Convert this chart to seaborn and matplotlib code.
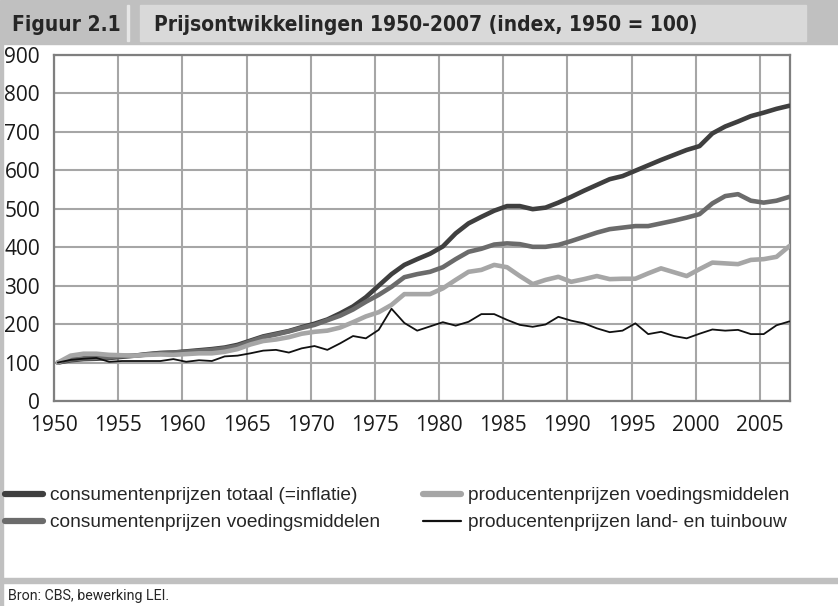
import numpy as np
import matplotlib
matplotlib.use('Agg')
import matplotlib.pyplot as plt
from matplotlib.patches import Rectangle
from matplotlib.lines import Line2D
import seaborn as sns

years = np.arange(1950, 2008)

cpi_totaal = [100, 106, 109, 110, 112, 115, 118, 122, 125, 126,
              129, 132, 135, 139, 146, 157, 168, 175, 182, 192,
              201, 212, 228, 246, 270, 300, 330, 354, 369, 383,
              402, 436, 462, 479, 495, 507, 507, 499, 503, 516,
              531, 547, 562, 577, 585, 599, 613, 627, 640, 653,
              663, 696, 714, 727, 741, 750, 760, 768]

cpi_voeding = [100, 108, 111, 112, 114, 117, 118, 121, 124, 126,
               128, 130, 133, 137, 143, 155, 166, 173, 181, 190,
               198, 210, 222, 238, 258, 276, 297, 322, 330, 336,
               348, 369, 388, 396, 407, 410, 408, 401, 401, 406,
               416, 427, 438, 447, 451, 455, 455, 462, 469, 477,
               486, 514, 533, 538, 521, 516, 521, 531]

ppi_voeding = [100, 118, 123, 123, 120, 119, 118, 120, 121, 120,
               122, 124, 124, 128, 135, 147, 156, 160, 166, 175,
               180, 183, 191, 205, 220, 231, 250, 278, 278, 278,
               293, 315, 336, 341, 354, 348, 325, 304, 315, 323,
               310, 317, 325, 317, 318, 318, 332, 345, 335, 325,
               343, 360, 358, 356, 367, 369, 375, 403]

ppi_land = [100, 107, 110, 112, 102, 104, 104, 104, 104, 109,
            102, 106, 104, 116, 118, 124, 131, 133, 126, 137,
            143, 133, 150, 169, 163, 185, 240, 203, 183, 194,
            205, 196, 206, 226, 226, 211, 198, 193, 199, 219,
            209, 202, 189, 179, 183, 202, 174, 180, 169, 163,
            175, 186, 183, 185, 174, 174, 197, 207]

labels = ['consumentenprijzen totaal (=inflatie)',
          'consumentenprijzen voedingsmiddelen',
          'producentenprijzen voedingsmiddelen',
          'producentenprijzen land- en tuinbouw']
colors = ['#3f3f3f', '#6b6b6b', '#a6a6a6', '#111111']
widths = [3.3, 3.3, 3.3, 1.3]

sns.set_style('white')
plt.rcParams['font.family'] = ['Liberation Sans', 'DejaVu Sans']

W, H = 838, 606
fig = plt.figure(figsize=(W / 100, H / 100), dpi=100)
ax = fig.add_axes([54 / W, 1 - 401 / H, (790 - 54) / W, (401 - 55) / H])

# excel draws in this order: totaal, ppi voeding, cpi voeding, ppi land
series = [cpi_totaal, cpi_voeding, ppi_voeding, ppi_land]
for i in [0, 2, 1, 3]:
    sns.lineplot(x=years, y=series[i], ax=ax, color=colors[i],
                 linewidth=widths[i], legend=False, zorder=3 + i)

ax.set_xlim(1949.7, 2007.05)
ax.set_ylim(0, 900)
ax.set_xticks(years[::5] - 0.3)
ax.set_xticklabels([str(y) for y in years[::5]])
ax.set_yticks(range(0, 901, 100))
ax.set_xlabel('')
ax.set_ylabel('')
ax.grid(True, color='#a6a6a6', linewidth=1.5)
for s in ax.spines.values():
    s.set_color('#7f7f7f')
    s.set_linewidth(1.6)
ax.tick_params(length=0, labelsize=15, colors='#1a1a1a')
ax.tick_params(axis='y', pad=10)
ax.tick_params(axis='x', pad=10)
for t in ax.get_xticklabels() + ax.get_yticklabels():
    t.set_family(['Open Sans', 'DejaVu Sans'])

# legend, two columns placed by hand
handles = [Line2D([], [], color=c, linewidth=(4.5 if w > 2 else 1.6))
           for c, w in zip(colors, widths)]
for x0, idx in [(1 / W, [0, 1]), (419 / W, [2, 3])]:
    fig.legend([handles[i] for i in idx], [labels[i] for i in idx],
               loc='upper left', bbox_to_anchor=(x0, 1 - 483 / H),
               frameon=False, fontsize=13.8, handlelength=2.0,
               handletextpad=0.35, labelspacing=0.5, borderaxespad=0,
               borderpad=0.2)

# header
fig.add_artist(Rectangle((0, 1 - 44 / H), 1, 44 / H, transform=fig.transFigure,
                         color='#c0c0c0', zorder=0))
fig.add_artist(Rectangle((140 / W, 1 - 41 / H), 666 / W, 36 / H,
                         transform=fig.transFigure, color='#d9d9d9', zorder=1))
fig.add_artist(Rectangle((127 / W, 1 - 41 / H), 2 / W, 36 / H,
                         transform=fig.transFigure, color='#e6e6e6', zorder=1))
fig.text(12 / W, 1 - 25 / H, 'Figuur 2.1', fontsize=15, fontweight='bold',
         va='center', ha='left', family='DejaVu Sans', fontstretch='condensed')
fig.text(154 / W, 1 - 25 / H, 'Prijsontwikkelingen 1950-2007 (index, 1950 = 100)',
         fontsize=15, fontweight='bold', va='center', ha='left',
         family='DejaVu Sans', fontstretch='condensed')

# frame lines and source
fig.add_artist(Rectangle((0, 0), 3 / W, 1 - 44 / H, transform=fig.transFigure,
                         color='#c0c0c0', zorder=0))
fig.add_artist(Rectangle((0, 1 - 583 / H), 1, 5 / H, transform=fig.transFigure,
                         color='#c0c0c0', zorder=0))
fig.text(8 / W, 1 - 596 / H, 'Bron: CBS, bewerking LEI.', fontsize=10.3,
         va='center', ha='left', family='Roboto', fontstretch='condensed')

fig.savefig('out.png', dpi=100)
